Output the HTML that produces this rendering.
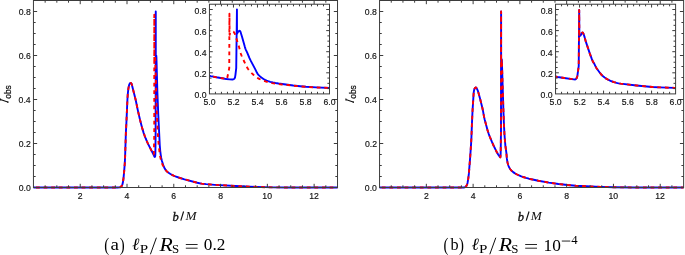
<!DOCTYPE html>
<html><head><meta charset="utf-8"><style>
html,body{margin:0;padding:0;background:#fff;}
body{width:685px;height:255px;overflow:hidden;position:relative;}
svg{position:absolute;left:0;top:0;will-change:transform;}
.tl{font-family:"Liberation Sans",sans-serif;font-size:8.7px;fill:#111;}
</style></head><body>
<svg width="685" height="255" viewBox="0 0 685 255">
<text transform="translate(104.15,250.84) scale(0.1480,0.1952)" font-family="Liberation Serif" font-size="100" fill="#000">(</text>
<text transform="translate(110.43,250.43) scale(0.1899,0.1712)" font-family="Liberation Serif" font-size="100" fill="#000">a</text>
<text transform="translate(119.72,250.84) scale(0.1480,0.1952)" font-family="Liberation Serif" font-size="100" fill="#000">)</text>
<text transform="translate(132.03,249.73) scale(0.1790,0.1718)" font-family="Liberation Serif" font-size="100" font-style="italic" fill="#000">ℓ</text>
<text transform="translate(139.69,253.00) scale(0.1508,0.1207)" font-family="Liberation Serif" font-size="100" fill="#000">P</text>
<path d="M150.40,254.3L156.40,237.7" stroke="#000" stroke-width="0.95"/>
<text transform="translate(159.42,250.70) scale(0.2168,0.1787)" font-family="Liberation Serif" font-size="100" font-style="italic" fill="#000">R</text>
<text transform="translate(171.94,253.38) scale(0.1287,0.1280)" font-family="Liberation Serif" font-size="100" fill="#000">S</text>
<path d="M185.80,244.5h11.8M185.80,248.2h11.8" stroke="#000" stroke-width="0.85"/>
<text x="203.78" y="250.46" font-family="Liberation Serif" font-size="17.226" fill="#000">0.2</text>
<text transform="translate(443.55,250.84) scale(0.1480,0.1952)" font-family="Liberation Serif" font-size="100" fill="#000">(</text>
<text transform="translate(450.50,250.43) scale(0.1624,0.1762)" font-family="Liberation Serif" font-size="100" fill="#000">b</text>
<text transform="translate(459.12,250.84) scale(0.1480,0.1952)" font-family="Liberation Serif" font-size="100" fill="#000">)</text>
<text transform="translate(471.43,249.73) scale(0.1790,0.1718)" font-family="Liberation Serif" font-size="100" font-style="italic" fill="#000">ℓ</text>
<text transform="translate(479.09,253.00) scale(0.1508,0.1207)" font-family="Liberation Serif" font-size="100" fill="#000">P</text>
<path d="M489.80,254.3L495.80,237.7" stroke="#000" stroke-width="0.95"/>
<text transform="translate(498.82,250.70) scale(0.2168,0.1787)" font-family="Liberation Serif" font-size="100" font-style="italic" fill="#000">R</text>
<text transform="translate(511.34,253.38) scale(0.1287,0.1280)" font-family="Liberation Serif" font-size="100" fill="#000">S</text>
<path d="M525.20,244.5h11.8M525.20,248.2h11.8" stroke="#000" stroke-width="0.85"/>
<text x="543.50" y="250.53" font-family="Liberation Serif" font-size="17.338" fill="#000">10</text><path d="M561.8,241.05h8.5" stroke="#000" stroke-width="0.85"/><text x="571.33" y="244.20" font-family="Liberation Serif" font-size="12.762" fill="#000">4</text>
<text x="172.43" y="220.58" font-family="Liberation Serif" font-size="12.507" font-style="italic" fill="#111" stroke="#111" stroke-width="0.35">b</text>
<path d="M180.80,220.6L183.60,211.5" stroke="#111" stroke-width="1.15"/>
<text transform="translate(185.46,220.30) scale(0.1325,0.1207)" font-family="Liberation Serif" font-size="100" font-style="italic" fill="#111">M</text>
<text transform="translate(10.82,98.75) rotate(-90) scale(0.0834,0.0817)" font-family="Liberation Sans" font-size="100" fill="#111" stroke="#111" stroke-width="3">obs</text>
<path d="M0.40,99.5L7.70,102.1M7.90,101.2V103.0M0.50,98.6V100.4" stroke="#111" stroke-width="1.1" fill="none"/>
<text x="517.83" y="220.58" font-family="Liberation Serif" font-size="12.507" font-style="italic" fill="#111" stroke="#111" stroke-width="0.35">b</text>
<path d="M526.20,220.6L529.00,211.5" stroke="#111" stroke-width="1.15"/>
<text transform="translate(530.86,220.30) scale(0.1325,0.1207)" font-family="Liberation Serif" font-size="100" font-style="italic" fill="#111">M</text>
<text transform="translate(356.22,98.75) rotate(-90) scale(0.0834,0.0817)" font-family="Liberation Sans" font-size="100" fill="#111" stroke="#111" stroke-width="3">obs</text>
<path d="M345.80,99.5L353.10,102.1M353.30,101.2V103.0M345.90,98.6V100.4" stroke="#111" stroke-width="1.1" fill="none"/>
<path d="M33.45,187.50 L117.78,187.50 L119.31,187.42 L119.87,187.32 L120.72,186.90 L121.40,186.35 L122.00,185.49 L122.40,184.50 L122.80,182.84 L123.30,180.00 L123.60,177.37 L124.20,170.80 L124.80,163.01 L125.10,157.00 L125.90,131.99 L126.40,122.80 L127.40,99.94 L127.80,93.82 L128.30,89.27 L128.60,87.44 L129.00,85.53 L129.30,84.53 L129.60,83.91 L130.00,83.25 L130.40,82.91 L130.60,82.90 L130.80,82.98 L131.20,83.33 L131.60,83.90 L131.80,84.54 L135.71,99.99 L137.78,110.09 L140.07,120.04 L142.07,127.65 L143.70,133.12 L144.65,135.80 L145.69,138.48 L146.91,141.38 L148.04,143.84 L153.50,154.61 L154.30,156.50 L154.50,156.80 L154.70,156.92 L154.92,156.81 L155.04,156.68 L155.15,156.48 L155.27,155.50 L155.38,153.18 L155.62,133.60 L155.76,11.50 L155.77,62.10 L156.01,57.70 L156.21,56.02 L156.31,55.72 L156.43,57.43 L157.41,93.03 L158.30,115.20 L159.78,145.59 L160.20,150.56 L160.62,154.06 L161.23,157.91 L161.82,160.44 L163.30,165.22 L164.00,167.03 L164.76,168.56 L165.43,169.68 L166.10,170.58 L166.86,171.38 L167.81,172.21 L168.95,173.04 L170.46,174.00 L171.96,174.82 L173.55,175.59 L175.34,176.34 L179.27,177.74 L184.47,179.32 L197.32,182.78 L199.56,183.28 L201.62,183.65 L206.11,184.17 L214.82,184.83 L240.74,186.30 L249.72,186.70 L264.53,187.17 L273.90,187.35 L287.56,187.49 L337.52,187.50" stroke="#0000ff" stroke-width="1.9" fill="none" stroke-linejoin="round"/>
<path d="M33.45,187.50 L117.78,187.50 L119.31,187.42 L119.87,187.32 L120.72,186.90 L121.40,186.35 L122.00,185.49 L122.40,184.50 L122.80,182.84 L123.30,180.00 L123.60,177.37 L124.20,170.80 L124.80,163.01 L125.10,157.00 L125.90,131.99 L126.40,122.80 L127.40,99.94 L127.80,93.82 L128.30,89.27 L128.60,87.44 L129.00,85.53 L129.30,84.53 L129.60,83.91 L130.00,83.25 L130.40,82.91 L130.60,82.90 L130.80,82.98 L131.20,83.33 L131.60,83.90 L131.80,84.54 L135.71,99.99 L137.78,110.09 L139.98,119.66 L141.78,126.60 L143.51,132.53 L145.31,137.53 L147.48,142.64 L148.79,145.36 L151.80,151.20 L152.93,153.98 L153.31,154.53 L153.50,154.61 L153.60,154.54 L153.79,153.85 L153.89,153.18 L154.26,133.60 L154.29,14.80 L154.33,64.30 L154.56,58.80 L154.75,57.10 L154.84,56.82 L154.96,57.08 L155.08,57.70 L155.29,61.00 L155.76,75.45 L156.73,109.73 L157.65,130.80 L158.25,139.83 L158.82,146.14 L159.60,153.02 L160.18,156.65 L161.05,160.44 L161.93,163.24 L162.42,164.50 L162.82,165.32 L164.09,167.12 L165.82,170.19 L166.20,170.69 L166.96,171.47 L167.91,172.29 L169.04,173.11 L170.55,174.05 L172.05,174.87 L173.65,175.63 L175.43,176.38 L179.56,177.84 L184.56,179.34 L194.42,182.04 L197.41,182.81 L199.66,183.30 L201.72,183.67 L206.21,184.18 L214.91,184.84 L240.83,186.30 L249.72,186.70 L264.62,187.18 L274.27,187.36 L287.56,187.49 L337.52,187.50" stroke="#ff0000" stroke-width="1.9" fill="none" stroke-dasharray="3.8 3.8" stroke-dashoffset="5.05" stroke-linejoin="round"/>
<rect x="33.45" y="0.5" width="304.07" height="187.00" fill="none" stroke="#3c3c3c" stroke-width="1"/>
<path d="M45.15,187.5v-2.2M45.15,0.5v2.2M56.84,187.5v-2.2M56.84,0.5v2.2M68.53,187.5v-2.2M68.53,0.5v2.2M80.23,187.5v-3.7M80.23,0.5v3.7M91.93,187.5v-2.2M91.93,0.5v2.2M103.62,187.5v-2.2M103.62,0.5v2.2M115.32,187.5v-2.2M115.32,0.5v2.2M127.01,187.5v-3.7M127.01,0.5v3.7M138.70,187.5v-2.2M138.70,0.5v2.2M150.40,187.5v-2.2M150.40,0.5v2.2M162.10,187.5v-2.2M162.10,0.5v2.2M173.79,187.5v-3.7M173.79,0.5v3.7M185.49,187.5v-2.2M185.49,0.5v2.2M197.18,187.5v-2.2M197.18,0.5v2.2M208.88,187.5v-2.2M208.88,0.5v2.2M220.57,187.5v-3.7M220.57,0.5v3.7M232.26,187.5v-2.2M232.26,0.5v2.2M243.96,187.5v-2.2M243.96,0.5v2.2M255.66,187.5v-2.2M255.66,0.5v2.2M267.35,187.5v-3.7M267.35,0.5v3.7M279.05,187.5v-2.2M279.05,0.5v2.2M290.74,187.5v-2.2M290.74,0.5v2.2M302.44,187.5v-2.2M302.44,0.5v2.2M314.13,187.5v-3.7M314.13,0.5v3.7M325.82,187.5v-2.2M325.82,0.5v2.2M33.45,176.50h2.2M337.52,176.50h-2.2M33.45,165.50h2.2M337.52,165.50h-2.2M33.45,154.50h2.2M337.52,154.50h-2.2M33.45,143.50h3.7M337.52,143.50h-3.7M33.45,132.50h2.2M337.52,132.50h-2.2M33.45,121.50h2.2M337.52,121.50h-2.2M33.45,110.50h2.2M337.52,110.50h-2.2M33.45,99.50h3.7M337.52,99.50h-3.7M33.45,88.50h2.2M337.52,88.50h-2.2M33.45,77.50h2.2M337.52,77.50h-2.2M33.45,66.50h2.2M337.52,66.50h-2.2M33.45,55.50h3.7M337.52,55.50h-3.7M33.45,44.50h2.2M337.52,44.50h-2.2M33.45,33.50h2.2M337.52,33.50h-2.2M33.45,22.50h2.2M337.52,22.50h-2.2M33.45,11.50h3.7M337.52,11.50h-3.7" stroke="#3c3c3c" stroke-width="1" fill="none"/>
<text transform="translate(77.81,198.50) scale(1,1.12)" class="tl" stroke="#111" stroke-width="0.15">2</text>
<text transform="translate(124.62,198.50) scale(1,1.12)" class="tl" stroke="#111" stroke-width="0.15">4</text>
<text transform="translate(171.34,198.50) scale(1,1.12)" class="tl" stroke="#111" stroke-width="0.15">6</text>
<text transform="translate(218.15,198.50) scale(1,1.12)" class="tl" stroke="#111" stroke-width="0.15">8</text>
<text transform="translate(262.35,198.50) scale(1,1.12)" class="tl" stroke="#111" stroke-width="0.15">10</text>
<text transform="translate(309.18,198.50) scale(1,1.12)" class="tl" stroke="#111" stroke-width="0.15">12</text>
<text transform="translate(18.70,191.20) scale(1,1.12)" class="tl" stroke="#111" stroke-width="0.15">0.0</text>
<text transform="translate(18.79,147.20) scale(1,1.12)" class="tl" stroke="#111" stroke-width="0.15">0.2</text>
<text transform="translate(18.61,103.20) scale(1,1.12)" class="tl" stroke="#111" stroke-width="0.15">0.4</text>
<text transform="translate(18.74,59.20) scale(1,1.12)" class="tl" stroke="#111" stroke-width="0.15">0.6</text>
<text transform="translate(18.73,15.20) scale(1,1.12)" class="tl" stroke="#111" stroke-width="0.15">0.8</text>
<rect x="209.45" y="4.23" width="120.05" height="89.67" fill="#fff"/>
<clipPath id="ca"><rect x="209.45" y="4.23" width="120.05" height="89.67"/></clipPath>
<g clip-path="url(#ca)">
<path d="M197.45,72.59 L204.37,74.51 L210.82,76.09 L216.36,77.25 L223.62,78.50 L226.22,79.06 L229.62,79.35 L232.50,79.45 L233.16,79.36 L233.82,79.13 L234.42,78.59 L235.02,77.44 L235.44,74.86 L236.22,68.05 L236.94,9.50 L237.00,33.77 L237.63,32.52 L238.26,31.66 L238.77,31.20 L239.29,30.85 L239.80,30.71 L240.40,31.53 L242.23,37.46 L244.77,46.61 L245.40,48.60 L246.01,50.05 L247.21,52.60 L249.50,58.20 L250.95,61.15 L255.20,69.10 L257.00,72.83 L257.60,73.80 L258.69,75.10 L259.77,76.17 L261.40,77.49 L263.49,78.97 L265.06,79.89 L266.62,80.62 L268.19,81.21 L270.27,81.86 L272.87,82.50 L275.46,83.02 L278.53,83.51 L293.24,85.49 L300.09,86.20 L305.98,86.72 L316.17,87.35 L341.22,88.44" stroke="#0000ff" stroke-width="1.9" fill="none" stroke-linejoin="round"/>
<path d="M197.45,72.59 L204.86,74.64 L211.32,76.20 L216.87,77.35 L223.14,78.41 L225.70,79.01 L226.74,79.13 L227.04,78.56 L227.34,77.44 L229.26,68.05 L229.44,13.72 L229.62,34.82 L230.22,33.22 L230.82,32.18 L231.30,31.72 L231.78,31.37 L232.26,31.23 L232.86,31.36 L233.46,31.66 L234.00,32.27 L234.54,33.24 L235.14,34.65 L236.34,38.30 L238.98,46.78 L240.90,53.81 L241.42,55.28 L242.98,58.98 L246.15,65.69 L247.21,67.64 L247.75,68.47 L248.73,69.83 L250.21,71.60 L251.68,73.14 L253.67,74.96 L255.67,76.62 L257.17,77.71 L258.67,78.60 L261.15,79.78 L263.63,80.75 L266.11,81.56 L269.14,82.38 L272.16,83.07 L275.19,83.60 L278.72,84.11 L281.72,84.45 L287.96,84.98 L293.24,85.67 L298.14,86.18 L307.47,87.00 L314.75,87.38 L341.22,88.42" stroke="#ff0000" stroke-width="1.9" fill="none" stroke-dasharray="3.8 3.8" stroke-dashoffset="6.64" stroke-linejoin="round"/>
</g>
<rect x="209.45" y="4.23" width="120.05" height="89.67" fill="none" stroke="#3c3c3c" stroke-width="1"/>
<path d="M215.45,93.9v-2.1M215.45,4.23v2.1M221.45,93.9v-2.1M221.45,4.23v2.1M227.46,93.9v-2.1M227.46,4.23v2.1M233.46,93.9v-3.3M233.46,4.23v3.3M239.46,93.9v-2.1M239.46,4.23v2.1M245.46,93.9v-2.1M245.46,4.23v2.1M251.47,93.9v-2.1M251.47,4.23v2.1M257.47,93.9v-3.3M257.47,4.23v3.3M263.47,93.9v-2.1M263.47,4.23v2.1M269.48,93.9v-2.1M269.48,4.23v2.1M275.48,93.9v-2.1M275.48,4.23v2.1M281.48,93.9v-3.3M281.48,4.23v3.3M287.48,93.9v-2.1M287.48,4.23v2.1M293.49,93.9v-2.1M293.49,4.23v2.1M299.49,93.9v-2.1M299.49,4.23v2.1M305.49,93.9v-3.3M305.49,4.23v3.3M311.49,93.9v-2.1M311.49,4.23v2.1M317.50,93.9v-2.1M317.50,4.23v2.1M323.50,93.9v-2.1M323.50,4.23v2.1M209.45,88.62h2.1M329.5,88.62h-2.1M209.45,83.35h2.1M329.5,83.35h-2.1M209.45,78.08h2.1M329.5,78.08h-2.1M209.45,72.80h3.3M329.5,72.80h-3.3M209.45,67.53h2.1M329.5,67.53h-2.1M209.45,62.25h2.1M329.5,62.25h-2.1M209.45,56.98h2.1M329.5,56.98h-2.1M209.45,51.70h3.3M329.5,51.70h-3.3M209.45,46.43h2.1M329.5,46.43h-2.1M209.45,41.15h2.1M329.5,41.15h-2.1M209.45,35.88h2.1M329.5,35.88h-2.1M209.45,30.60h3.3M329.5,30.60h-3.3M209.45,25.33h2.1M329.5,25.33h-2.1M209.45,20.05h2.1M329.5,20.05h-2.1M209.45,14.78h2.1M329.5,14.78h-2.1M209.45,9.50h3.3M329.5,9.50h-3.3" stroke="#3c3c3c" stroke-width="1" fill="none"/>
<text transform="translate(203.50,104.80) scale(1,1.12)" class="tl" stroke="#111" stroke-width="0.15">5.0</text>
<text transform="translate(227.56,104.80) scale(1,1.12)" class="tl" stroke="#111" stroke-width="0.15">5.2</text>
<text transform="translate(251.48,104.80) scale(1,1.12)" class="tl" stroke="#111" stroke-width="0.15">5.4</text>
<text transform="translate(275.55,104.80) scale(1,1.12)" class="tl" stroke="#111" stroke-width="0.15">5.6</text>
<text transform="translate(299.56,104.80) scale(1,1.12)" class="tl" stroke="#111" stroke-width="0.15">5.8</text>
<text transform="translate(323.50,104.80) scale(1,1.12)" class="tl" stroke="#111" stroke-width="0.15">6.0</text>
<text transform="translate(194.50,97.90) scale(1,1.12)" class="tl" stroke="#111" stroke-width="0.15">0.0</text>
<text transform="translate(194.59,76.80) scale(1,1.12)" class="tl" stroke="#111" stroke-width="0.15">0.2</text>
<text transform="translate(194.41,55.70) scale(1,1.12)" class="tl" stroke="#111" stroke-width="0.15">0.4</text>
<text transform="translate(194.54,34.60) scale(1,1.12)" class="tl" stroke="#111" stroke-width="0.15">0.6</text>
<text transform="translate(194.53,13.50) scale(1,1.12)" class="tl" stroke="#111" stroke-width="0.15">0.8</text>
<path d="M379.55,187.50 L463.75,187.50 L464.22,187.45 L464.78,187.27 L465.63,186.84 L465.92,186.59 L466.41,185.88 L466.90,184.84 L467.29,183.81 L467.57,182.71 L468.23,178.83 L468.90,173.44 L470.20,156.94 L471.10,143.64 L471.41,137.67 L471.94,123.70 L472.51,111.18 L473.60,93.82 L473.80,91.80 L474.08,90.26 L474.37,89.13 L474.75,88.28 L475.23,87.77 L475.61,87.54 L475.89,87.52 L476.18,87.68 L476.46,88.01 L476.84,88.62 L477.69,90.32 L478.45,92.67 L480.06,98.64 L482.33,107.77 L483.00,110.93 L484.00,116.62 L484.57,119.14 L487.43,129.84 L488.68,133.81 L489.84,136.87 L491.94,141.93 L493.54,145.51 L495.42,149.43 L496.73,151.97 L498.16,154.42 L499.92,157.01 L500.13,157.26 L500.34,157.36 L500.45,156.82 L500.69,152.96 L501.01,129.42 L501.11,11.50 L501.14,66.50 L501.34,65.84 L501.66,60.17 L501.76,59.24 L501.86,60.21 L503.35,108.74 L504.00,125.83 L504.45,134.04 L504.93,140.55 L505.40,145.81 L506.40,153.08 L506.90,158.90 L507.47,162.23 L508.12,164.78 L508.59,166.03 L509.16,167.26 L509.72,168.29 L510.37,169.27 L511.03,170.09 L511.87,170.97 L513.19,172.11 L514.60,173.10 L516.57,174.25 L518.54,175.22 L520.69,176.13 L523.22,177.03 L526.04,177.93 L528.86,178.70 L531.40,179.29 L538.33,180.70 L548.92,182.60 L558.47,184.01 L567.56,185.05 L575.79,185.71 L586.27,186.30 L600.79,186.87 L613.72,187.25 L634.31,187.50 L683.62,187.50" stroke="#0000ff" stroke-width="1.9" fill="none" stroke-linejoin="round"/>
<path d="M379.55,187.50 L463.75,187.50 L464.22,187.45 L464.78,187.27 L465.63,186.84 L465.92,186.59 L466.41,185.88 L466.90,184.84 L467.29,183.81 L467.57,182.71 L468.23,178.83 L468.90,173.44 L470.20,156.94 L471.10,143.64 L471.41,137.67 L471.94,123.70 L472.51,111.18 L473.60,93.82 L473.80,91.80 L474.08,90.26 L474.37,89.13 L474.75,88.28 L475.23,87.77 L475.61,87.54 L475.89,87.52 L476.18,87.68 L476.46,88.01 L476.84,88.62 L477.69,90.32 L478.45,92.67 L480.06,98.64 L482.33,107.77 L483.00,110.93 L484.00,116.62 L484.57,119.14 L487.43,129.84 L488.68,133.81 L489.84,136.87 L491.94,141.93 L493.54,145.51 L495.42,149.43 L496.73,151.97 L498.16,154.42 L499.92,157.01 L500.13,157.26 L500.34,157.36 L500.45,156.82 L500.69,152.96 L501.01,129.42 L501.11,11.50 L501.14,66.50 L501.34,65.84 L501.66,60.17 L501.76,59.24 L501.86,60.21 L503.35,108.74 L504.00,125.83 L504.45,134.04 L504.93,140.55 L505.40,145.81 L506.40,153.08 L506.90,158.90 L507.47,162.23 L508.12,164.78 L508.59,166.03 L509.16,167.26 L509.72,168.29 L510.37,169.27 L511.03,170.09 L511.87,170.97 L513.19,172.11 L514.60,173.10 L516.57,174.25 L518.54,175.22 L520.69,176.13 L523.22,177.03 L526.04,177.93 L528.86,178.70 L531.40,179.29 L538.33,180.70 L548.92,182.60 L558.47,184.01 L567.56,185.05 L575.79,185.71 L586.27,186.30 L600.79,186.87 L613.72,187.25 L634.31,187.50 L683.62,187.50" stroke="#ff0000" stroke-width="1.9" fill="none" stroke-dasharray="3.8 3.8" stroke-dashoffset="5.35" stroke-linejoin="round"/>
<rect x="379.55" y="0.5" width="304.07" height="187.00" fill="none" stroke="#3c3c3c" stroke-width="1"/>
<path d="M391.25,187.5v-2.2M391.25,0.5v2.2M402.94,187.5v-2.2M402.94,0.5v2.2M414.63,187.5v-2.2M414.63,0.5v2.2M426.33,187.5v-3.7M426.33,0.5v3.7M438.03,187.5v-2.2M438.03,0.5v2.2M449.72,187.5v-2.2M449.72,0.5v2.2M461.42,187.5v-2.2M461.42,0.5v2.2M473.11,187.5v-3.7M473.11,0.5v3.7M484.81,187.5v-2.2M484.81,0.5v2.2M496.50,187.5v-2.2M496.50,0.5v2.2M508.20,187.5v-2.2M508.20,0.5v2.2M519.89,187.5v-3.7M519.89,0.5v3.7M531.59,187.5v-2.2M531.59,0.5v2.2M543.28,187.5v-2.2M543.28,0.5v2.2M554.98,187.5v-2.2M554.98,0.5v2.2M566.67,187.5v-3.7M566.67,0.5v3.7M578.37,187.5v-2.2M578.37,0.5v2.2M590.06,187.5v-2.2M590.06,0.5v2.2M601.75,187.5v-2.2M601.75,0.5v2.2M613.45,187.5v-3.7M613.45,0.5v3.7M625.14,187.5v-2.2M625.14,0.5v2.2M636.84,187.5v-2.2M636.84,0.5v2.2M648.54,187.5v-2.2M648.54,0.5v2.2M660.23,187.5v-3.7M660.23,0.5v3.7M671.92,187.5v-2.2M671.92,0.5v2.2M379.55,176.50h2.2M683.62,176.50h-2.2M379.55,165.50h2.2M683.62,165.50h-2.2M379.55,154.50h2.2M683.62,154.50h-2.2M379.55,143.50h3.7M683.62,143.50h-3.7M379.55,132.50h2.2M683.62,132.50h-2.2M379.55,121.50h2.2M683.62,121.50h-2.2M379.55,110.50h2.2M683.62,110.50h-2.2M379.55,99.50h3.7M683.62,99.50h-3.7M379.55,88.50h2.2M683.62,88.50h-2.2M379.55,77.50h2.2M683.62,77.50h-2.2M379.55,66.50h2.2M683.62,66.50h-2.2M379.55,55.50h3.7M683.62,55.50h-3.7M379.55,44.50h2.2M683.62,44.50h-2.2M379.55,33.50h2.2M683.62,33.50h-2.2M379.55,22.50h2.2M683.62,22.50h-2.2M379.55,11.50h3.7M683.62,11.50h-3.7" stroke="#3c3c3c" stroke-width="1" fill="none"/>
<text transform="translate(423.91,198.50) scale(1,1.12)" class="tl" stroke="#111" stroke-width="0.15">2</text>
<text transform="translate(470.72,198.50) scale(1,1.12)" class="tl" stroke="#111" stroke-width="0.15">4</text>
<text transform="translate(517.44,198.50) scale(1,1.12)" class="tl" stroke="#111" stroke-width="0.15">6</text>
<text transform="translate(564.25,198.50) scale(1,1.12)" class="tl" stroke="#111" stroke-width="0.15">8</text>
<text transform="translate(608.45,198.50) scale(1,1.12)" class="tl" stroke="#111" stroke-width="0.15">10</text>
<text transform="translate(655.28,198.50) scale(1,1.12)" class="tl" stroke="#111" stroke-width="0.15">12</text>
<text transform="translate(364.80,191.20) scale(1,1.12)" class="tl" stroke="#111" stroke-width="0.15">0.0</text>
<text transform="translate(364.89,147.20) scale(1,1.12)" class="tl" stroke="#111" stroke-width="0.15">0.2</text>
<text transform="translate(364.71,103.20) scale(1,1.12)" class="tl" stroke="#111" stroke-width="0.15">0.4</text>
<text transform="translate(364.84,59.20) scale(1,1.12)" class="tl" stroke="#111" stroke-width="0.15">0.6</text>
<text transform="translate(364.83,15.20) scale(1,1.12)" class="tl" stroke="#111" stroke-width="0.15">0.8</text>
<rect x="555.55" y="4.23" width="120.05" height="89.67" fill="#fff"/>
<clipPath id="cb"><rect x="555.55" y="4.23" width="120.05" height="89.67"/></clipPath>
<g clip-path="url(#cb)">
<path d="M543.54,74.28 L551.52,75.90 L557.53,76.98 L564.16,78.00 L573.75,79.33 L575.24,79.45 L575.84,79.19 L576.44,78.46 L577.04,77.34 L577.40,75.63 L578.72,66.05 L579.20,10.03 L579.38,35.88 L579.89,35.78 L580.40,35.56 L580.94,34.92 L582.02,32.84 L582.56,32.39 L583.07,32.86 L583.58,34.04 L584.60,37.14 L585.92,41.89 L589.76,53.41 L591.87,59.19 L593.01,61.83 L594.57,64.36 L595.89,67.10 L596.40,67.93 L599.99,72.95 L601.01,74.25 L602.05,75.32 L603.09,76.28 L604.65,77.54 L606.21,78.60 L608.13,79.71 L610.05,80.66 L611.49,81.27 L614.01,82.16 L616.54,82.91 L618.58,83.35 L620.61,83.66 L636.51,85.48 L646.84,86.50 L652.24,86.96 L659.61,87.36 L674.32,87.88 L687.32,88.42" stroke="#0000ff" stroke-width="1.9" fill="none" stroke-linejoin="round"/>
<path d="M543.54,74.28 L551.52,75.90 L557.53,76.98 L564.16,78.00 L573.75,79.33 L575.24,79.45 L575.84,79.19 L576.44,78.46 L577.04,77.34 L577.40,75.63 L578.72,66.05 L579.20,10.03 L579.38,35.88 L579.89,35.78 L580.40,35.56 L580.94,34.92 L582.02,32.84 L582.56,32.39 L583.07,32.86 L583.58,34.04 L584.60,37.14 L585.92,41.89 L589.76,53.41 L591.87,59.19 L593.01,61.83 L594.57,64.36 L595.89,67.10 L596.40,67.93 L599.99,72.95 L601.01,74.25 L602.05,75.32 L603.09,76.28 L604.65,77.54 L606.21,78.60 L608.13,79.71 L610.05,80.66 L611.49,81.27 L614.01,82.16 L616.54,82.91 L618.58,83.35 L620.61,83.66 L636.51,85.48 L646.84,86.50 L652.24,86.96 L659.61,87.36 L674.32,87.88 L687.32,88.42" stroke="#ff0000" stroke-width="1.9" fill="none" stroke-dasharray="3.8 3.8" stroke-dashoffset="4.74" stroke-linejoin="round"/>
</g>
<rect x="555.55" y="4.23" width="120.05" height="89.67" fill="none" stroke="#3c3c3c" stroke-width="1"/>
<path d="M561.55,93.9v-2.1M561.55,4.23v2.1M567.55,93.9v-2.1M567.55,4.23v2.1M573.56,93.9v-2.1M573.56,4.23v2.1M579.56,93.9v-3.3M579.56,4.23v3.3M585.56,93.9v-2.1M585.56,4.23v2.1M591.56,93.9v-2.1M591.56,4.23v2.1M597.57,93.9v-2.1M597.57,4.23v2.1M603.57,93.9v-3.3M603.57,4.23v3.3M609.57,93.9v-2.1M609.57,4.23v2.1M615.57,93.9v-2.1M615.57,4.23v2.1M621.58,93.9v-2.1M621.58,4.23v2.1M627.58,93.9v-3.3M627.58,4.23v3.3M633.58,93.9v-2.1M633.58,4.23v2.1M639.58,93.9v-2.1M639.58,4.23v2.1M645.59,93.9v-2.1M645.59,4.23v2.1M651.59,93.9v-3.3M651.59,4.23v3.3M657.59,93.9v-2.1M657.59,4.23v2.1M663.59,93.9v-2.1M663.59,4.23v2.1M669.60,93.9v-2.1M669.60,4.23v2.1M555.55,88.62h2.1M675.5999999999999,88.62h-2.1M555.55,83.35h2.1M675.5999999999999,83.35h-2.1M555.55,78.08h2.1M675.5999999999999,78.08h-2.1M555.55,72.80h3.3M675.5999999999999,72.80h-3.3M555.55,67.53h2.1M675.5999999999999,67.53h-2.1M555.55,62.25h2.1M675.5999999999999,62.25h-2.1M555.55,56.98h2.1M675.5999999999999,56.98h-2.1M555.55,51.70h3.3M675.5999999999999,51.70h-3.3M555.55,46.43h2.1M675.5999999999999,46.43h-2.1M555.55,41.15h2.1M675.5999999999999,41.15h-2.1M555.55,35.88h2.1M675.5999999999999,35.88h-2.1M555.55,30.60h3.3M675.5999999999999,30.60h-3.3M555.55,25.33h2.1M675.5999999999999,25.33h-2.1M555.55,20.05h2.1M675.5999999999999,20.05h-2.1M555.55,14.78h2.1M675.5999999999999,14.78h-2.1M555.55,9.50h3.3M675.5999999999999,9.50h-3.3" stroke="#3c3c3c" stroke-width="1" fill="none"/>
<text transform="translate(549.60,104.80) scale(1,1.12)" class="tl" stroke="#111" stroke-width="0.15">5.0</text>
<text transform="translate(573.66,104.80) scale(1,1.12)" class="tl" stroke="#111" stroke-width="0.15">5.2</text>
<text transform="translate(597.58,104.80) scale(1,1.12)" class="tl" stroke="#111" stroke-width="0.15">5.4</text>
<text transform="translate(621.65,104.80) scale(1,1.12)" class="tl" stroke="#111" stroke-width="0.15">5.6</text>
<text transform="translate(645.66,104.80) scale(1,1.12)" class="tl" stroke="#111" stroke-width="0.15">5.8</text>
<text transform="translate(669.60,104.80) scale(1,1.12)" class="tl" stroke="#111" stroke-width="0.15">6.0</text>
<text transform="translate(540.60,97.90) scale(1,1.12)" class="tl" stroke="#111" stroke-width="0.15">0.0</text>
<text transform="translate(540.69,76.80) scale(1,1.12)" class="tl" stroke="#111" stroke-width="0.15">0.2</text>
<text transform="translate(540.51,55.70) scale(1,1.12)" class="tl" stroke="#111" stroke-width="0.15">0.4</text>
<text transform="translate(540.64,34.60) scale(1,1.12)" class="tl" stroke="#111" stroke-width="0.15">0.6</text>
<text transform="translate(540.63,13.50) scale(1,1.12)" class="tl" stroke="#111" stroke-width="0.15">0.8</text>
</svg>
</body></html>
